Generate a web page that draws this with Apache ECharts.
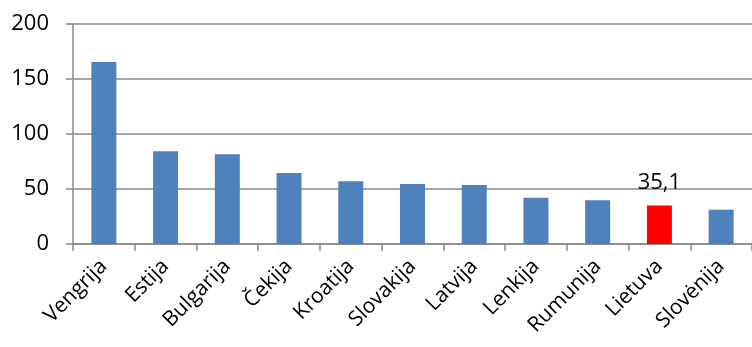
<!DOCTYPE html>
<html>
<head>
<meta charset="utf-8">
<script src="https://cdn.jsdelivr.net/npm/echarts@6/dist/echarts.min.js"></script>
<style>
  body { margin: 0; background: #fff; }
  #main { width: 752px; height: 347px; }
</style>
</head>
<body>
<div id="main"></div>
<script>
// šalys ir reikšmės
var countries = ["Vengrija", "Estija", "Bulgarija", "Čekija", "Kroatija", "Slovakija", "Latvija", "Lenkija", "Rumunija", "Lietuva", "Slovėnija"];
var values = [165.5, 84.3, 81.5, 64.5, 57, 54.5, 53.6, 42.1, 39.7, 35.1, 31.2];
var highlight = "Lietuva";
var yTicks = [0, 50, 100, 150, 200];

var chart = echarts.init(document.getElementById("main"));

var barData = values.map(function (v, i) {
  var isLt = countries[i] === highlight;
  return {
    value: v,
    itemStyle: { color: isLt ? "#FF0000" : "#4F81BD" },
    label: {
      show: isLt,
      position: "top",
      distance: 12,
      formatter: function (p) { return String(p.value).replace(".", ","); }
    }
  };
});

chart.setOption({
  animation: false,
  textStyle: { fontFamily: "Open Sans" },
  grid: { left: 73, right: 0, top: 24, bottom: 103 },
  xAxis: {
    type: "category",
    data: countries,
    axisLine: { lineStyle: { color: "#888", width: 1.5 } },
    axisTick: { show: true, length: 7, lineStyle: { color: "#888", width: 1.5 } },
    axisLabel: {
      rotate: 45,
      interval: 0,
      color: "#000",
      fontSize: 21,
      margin: 19
    }
  },
  yAxis: {
    type: "value",
    min: yTicks[0],
    max: yTicks[yTicks.length - 1],
    interval: 50,
    axisLine: { show: true, lineStyle: { color: "#888", width: 1.5 } },
    axisTick: { show: true, length: 7, lineStyle: { color: "#888", width: 1.5 } },
    splitLine: { lineStyle: { color: "#888", width: 1.5 } },
    axisLabel: { color: "#000", fontSize: 22, margin: 24 }
  },
  series: [
    {
      type: "bar",
      data: barData,
      barWidth: 25,
      label: { color: "#000", fontSize: 22 }
    }
  ]
});
</script>
</body>
</html>
